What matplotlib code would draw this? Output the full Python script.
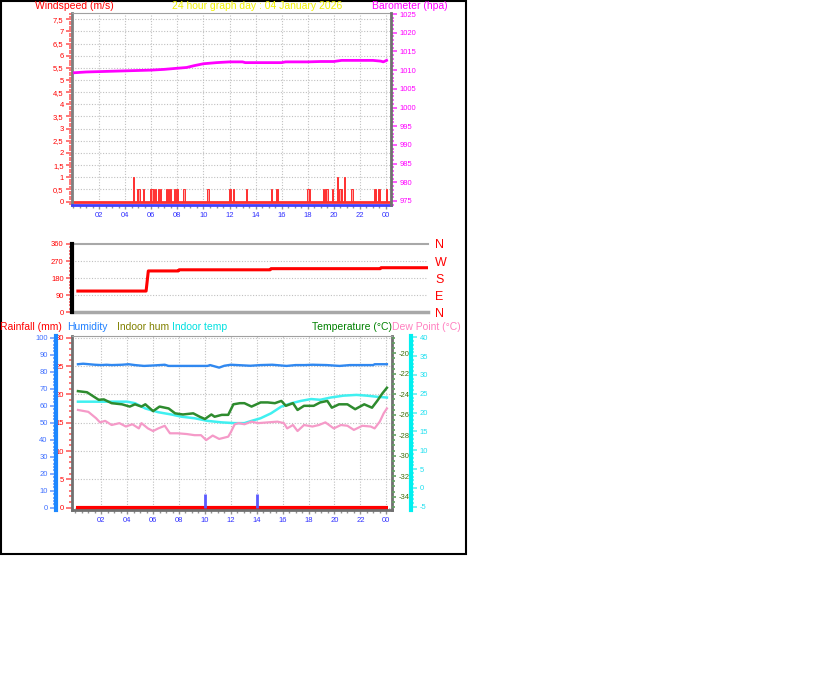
#!/usr/bin/env python3

import matplotlib
matplotlib.use("Agg")
import matplotlib.pyplot as plt
from matplotlib.patches import Rectangle
from matplotlib.ticker import MultipleLocator, FixedLocator, FuncFormatter

W, H = 816, 683
plt.rcParams['font.family'] = ['Liberation Sans', 'DejaVu Sans']
plt.rcParams['axes.unicode_minus'] = False

# --- windspeed spikes (m/s) ---
wind_hours = [4.62, 4.95, 5.05, 5.38, 5.95, 6.05, 6.15, 6.3, 6.57, 6.72, 7.18, 7.3,
              7.45, 7.78, 7.9, 8.02, 8.5, 10.35, 11.97, 12.1, 12.3, 13.3, 15.25,
              15.6, 15.7, 18.02, 18.15, 19.2, 19.35, 19.48, 19.92, 20.3, 20.48,
              20.62, 20.8, 21.4, 23.1, 23.2, 23.42, 23.52, 24.05]
wind_speed = [1.0, 0.5, 0.5, 0.5, 0.5, 0.5, 0.5, 0.5, 0.5, 0.5, 0.5, 0.5,
              0.5, 0.5, 0.5, 0.5, 0.5, 0.5, 0.5, 0.5, 0.5, 0.5, 0.5,
              0.5, 0.5, 0.5, 0.5, 0.5, 0.5, 0.5, 0.5, 1.0, 0.5,
              0.5, 1.0, 0.5, 0.5, 0.5, 0.5, 0.5, 0.5]

# --- barometer (hPa) ---
baro_hours = [0.1, 1.0, 2.0, 3.0, 4.0, 5.0, 6.0, 7.0, 8.0, 8.7, 9.3, 10.0, 11.0,
              12.0, 13.0, 13.2, 14.0, 15.0, 16.0, 16.3, 17.0, 18.0, 19.0, 20.0,
              20.6, 21.0, 22.0, 23.0, 23.6, 23.8, 24.05]
baro = [1009.3, 1009.5, 1009.6, 1009.7, 1009.8, 1009.9, 1010.0, 1010.2, 1010.5,
        1010.7, 1011.2, 1011.7, 1012.0, 1012.2, 1012.2, 1012.0, 1012.0, 1012.0,
        1012.0, 1012.2, 1012.2, 1012.2, 1012.3, 1012.3, 1012.6, 1012.6, 1012.6,
        1012.6, 1012.4, 1012.2, 1012.6]

# --- wind direction (deg) ---
dir_hours = [0.2, 4.85, 5.0, 7.04, 7.1, 13.3, 13.36, 20.8, 20.86, 24.0]
dir_deg = [112, 112, 218, 218, 224, 224, 230, 230, 235, 235]

# --- temperature (green), indoor temp (cyan), dew point (pink), degC ---
temp_hours = [0.2, 0.9, 1.8, 2.2, 2.8, 3.6, 4.2, 4.6, 5.1, 5.4, 6.0, 6.5, 7.2, 7.7,
              8.3, 9.1, 9.6, 10.0, 10.5, 10.75, 11.3, 11.8, 12.2, 12.7, 13.05,
              13.6, 14.3, 14.85, 15.4, 15.9, 16.25, 16.8, 17.15, 17.65, 18.4,
              18.9, 19.45, 19.8, 20.35, 21.0, 21.6, 22.3, 22.9, 23.3, 23.7, 24.05]
temp = [25.7, 25.4, 23.4, 23.5, 22.5, 22.2, 21.6, 22.2, 21.6, 22.2, 20.4, 21.6,
        21.1, 19.8, 19.5, 19.8, 18.9, 18.3, 19.5, 18.9, 19.4, 19.4, 22.2, 22.5,
        22.5, 21.6, 22.7, 22.7, 22.5, 23.1, 21.8, 22.5, 20.7, 21.8, 21.8, 22.7,
        23.1, 21.3, 22.2, 22.2, 20.9, 22.2, 21.3, 23.1, 25.1, 26.6]

in_hours = [0.2, 4.0, 4.6, 5.4, 6.4, 7.4, 8.2, 9.2, 10.2, 11.3, 12.3, 13.05, 13.6,
            14.3, 15.1, 15.9, 16.7, 17.4, 18.2, 18.9, 19.7, 20.7, 21.7, 22.5,
            23.3, 24.05]
in_temp = [22.9, 22.9, 22.5, 21.1, 20.1, 19.5, 18.9, 18.5, 17.8, 17.4, 17.2, 17.2,
           17.8, 18.5, 19.8, 21.6, 22.5, 23.1, 23.6, 23.4, 24.0, 24.5, 24.7, 24.5,
           24.2, 24.0]

dew_hours = [0.2, 1.0, 1.6, 1.9, 2.3, 2.8, 3.4, 3.9, 4.4, 4.9, 5.1, 5.6, 6.0, 6.4,
             6.9, 7.3, 7.9, 8.6, 9.2, 9.7, 10.1, 10.6, 11.1, 11.8, 12.0, 12.3,
             12.6, 13.05, 13.6, 14.1, 14.85, 15.6, 16.1, 16.35, 16.8, 17.15,
             17.65, 18.3, 18.8, 19.3, 19.95, 20.5, 21.0, 21.5, 22.15, 22.8, 23.1,
             23.5, 23.8, 24.05]
dew = [20.7, 20.2, 18.5, 17.4, 17.8, 16.7, 17.2, 16.3, 16.9, 15.8, 17.2, 15.8,
       15.1, 15.8, 16.5, 14.5, 14.5, 14.3, 14.0, 14.0, 12.7, 13.9, 13.0, 13.6,
       14.8, 16.9, 17.2, 16.9, 17.6, 17.2, 17.4, 17.6, 17.2, 15.8, 16.7, 15.1,
       16.7, 16.3, 16.7, 17.4, 15.8, 16.7, 16.5, 15.4, 16.5, 16.3, 15.8, 17.6,
       19.8, 21.1]

# --- humidity (%) ---
hum_hours = [0.2, 0.6, 1.5, 2.0, 2.4, 2.8, 3.6, 4.1, 4.6, 5.3, 6.1, 6.9, 7.2, 8.2,
             9.2, 10.2, 10.4, 11.1, 11.5, 12.0, 12.5, 13.5, 14.3, 15.2, 16.3,
             17.0, 17.7, 18.3, 19.4, 20.4, 21.2, 22.0, 23.0, 23.1, 24.05]
hum = [84.4, 84.7, 84.1, 83.9, 84.1, 83.9, 84.1, 84.4, 83.9, 83.4, 83.7, 84.1,
       83.4, 83.4, 83.4, 83.4, 83.9, 82.4, 83.5, 84.1, 83.9, 83.5, 83.9, 84.1,
       83.4, 83.9, 83.9, 84.1, 83.9, 83.4, 83.9, 83.9, 83.9, 84.4, 84.4]

# --- rain events (mm) ---
rain_hours = [10.04, 14.03]
rain_mm = [2.5, 2.5]

hour_ticks = list(range(2, 25, 2))
hour_labels = [f"{h % 24:02d}" for h in hour_ticks]
comma = FuncFormatter(lambda v, p: f"{v:g}".replace('.', ','))
TS = 5.5  # tick label size


def px_axes(fig, x0, y0, x1, y1):
    return fig.add_axes([x0 / W, 1 - y1 / H, (x1 - x0) / W, (y1 - y0) / H])


def ptxt(fig, x, y, s, color, size=7.5):
    fig.text(x / W, 1 - y / H, s, color=color, fontsize=size, ha='left', va='center')


def hour_axis(ax):
    ax.set_xticks(hour_ticks)
    ax.set_xticklabels(hour_labels)
    ax.xaxis.set_minor_locator(MultipleLocator(0.5))
    ax.tick_params(axis='x', which='both', colors='#909090', labelcolor='#3030ff',
                   labelsize=TS, length=3, width=1, pad=2)
    ax.tick_params(axis='x', which='minor', length=2)


fig = plt.figure(figsize=(W / 100, H / 100), dpi=100)
fig.add_artist(Rectangle((0.001, 1 - 554 / H), 465 / W, 554 / H - 0.001,
                         transform=fig.transFigure, fill=False, edgecolor='black', lw=1.5))

# ---------------- top panel: windspeed + barometer ----------------
ax1 = px_axes(fig, 72, 13, 391, 205)
ax1.set_xlim(-0.09, 24.39)
ax1.set_ylim(-0.144, 7.76)
ax1.grid(True, color='#c0c0c0', ls=(0, (1, 1.5)), lw=0.8)
ax1.set_axisbelow(True)
ax1.bar(wind_hours, wind_speed, width=0.09, color='#ffa0a0', edgecolor='#ff3030', lw=0.7)
ax1.axhline(0, color='#ff3030', lw=2)
ax1.yaxis.set_major_locator(MultipleLocator(0.5))
ax1.yaxis.set_minor_locator(MultipleLocator(0.1))
ax1.yaxis.set_major_formatter(comma)
ax1.tick_params(axis='y', which='both', colors='#ff6060', labelcolor='#ff0000',
                labelsize=TS, length=4, width=1.2, pad=2)
ax1.tick_params(axis='y', which='minor', length=2.5)
hour_axis(ax1)
ax1.spines['left'].set_color('#808080')
ax1.spines['left'].set_linewidth(2)
ax1.spines['top'].set_color('#a0a0a0')
ax1.spines['bottom'].set_color('#4040ff')
ax1.spines['bottom'].set_linewidth(2)
ax1.spines['right'].set_visible(False)

ax1b = ax1.twinx()
ax1b.set_ylim(973.93, 1025.27)
ax1b.plot(baro_hours, baro, color='#ff00ff', lw=2)
ax1b.yaxis.set_major_locator(MultipleLocator(5))
ax1b.yaxis.set_minor_locator(MultipleLocator(1))
ax1b.tick_params(axis='y', which='both', colors='#ff40ff', labelcolor='#ff00ff',
                 labelsize=TS, length=4, width=1.2, pad=2)
ax1b.tick_params(axis='y', which='minor', length=2.5)
for s in ['left', 'top', 'bottom']:
    ax1b.spines[s].set_visible(False)
ax1b.spines['right'].set_color('#707070')
ax1b.spines['right'].set_linewidth(2)

ptxt(fig, 35, 6, "Windspeed (m/s)", '#ff0000')
ptxt(fig, 172, 6, "24 hour graph day : 04 January 2026", '#f0f000')
ptxt(fig, 372, 6, "Barometer (hpa)", '#ff00ff')

# ---------------- middle panel: wind direction ----------------
ax2 = px_axes(fig, 72, 244, 428, 312.3)
ax2.set_xlim(-0.2, 24.06)
ax2.set_ylim(0, 360)
for v in (90, 180, 270):
    ax2.axhline(v, color='#c0c0c0', ls=(0, (1, 1.5)), lw=0.8)
ax2.axhline(360, color='#a8a8a8', lw=1.5, clip_on=False)
ax2.axhline(0, color='#a8a8a8', lw=2.5, clip_on=False)
ax2.plot(dir_hours, dir_deg, color='#ff0000', lw=2.2)
ax2.set_xticks([])
ax2.set_yticks([0, 90, 180, 270, 360])
ax2.yaxis.set_minor_locator(MultipleLocator(18))
ax2.tick_params(axis='y', which='both', colors='#ff6060', labelcolor='#ff0000',
                labelsize=TS, length=4, width=1.2, pad=2)
ax2.tick_params(axis='y', which='minor', length=2.5)
for s in ['top', 'bottom', 'right']:
    ax2.spines[s].set_visible(False)
ax2.spines['left'].set_color('black')
ax2.spines['left'].set_linewidth(3)

ax2r = ax2.twinx()
ax2r.set_ylim(0, 360)
ax2r.set_yticks([0, 90, 180, 270, 360])
ax2r.set_yticklabels(['N', 'E', 'S', 'W', 'N'])
ax2r.tick_params(axis='y', length=0, labelcolor='#ff0000', labelsize=9, pad=5)
for s in ax2r.spines.values():
    s.set_visible(False)

# ---------------- bottom panel: rain, humidity, temperatures ----------------
ax3 = px_axes(fig, 72, 335.7, 391.7, 510)
ax3.set_xlim(-0.26, 24.42)
ax3.set_ylim(-0.41, 30.35)
ax3.yaxis.set_major_locator(MultipleLocator(5))
ax3.yaxis.set_minor_locator(MultipleLocator(1))
ax3.grid(True, which='major', color='#c0c0c0', ls=(0, (1, 1.5)), lw=0.8)
ax3.set_axisbelow(True)
ax3.hlines(0, 0.05, 24.1, color='#ff0000', lw=3)
ax3.vlines(rain_hours, 0, rain_mm, color='#5a5aff', lw=2)
ax3.tick_params(axis='y', which='both', colors='#ff6060', labelcolor='#ff0000',
                labelsize=TS, length=4, width=1.2, pad=2)
ax3.tick_params(axis='y', which='minor', length=2.5)
hour_axis(ax3)
for s in ['left', 'right', 'bottom']:
    ax3.spines[s].set_color('#707070')
    ax3.spines[s].set_linewidth(2)
ax3.spines['top'].set_color('#a0a0a0')

ax3h = ax3.twinx()
ax3h.set_ylim(-1.35, 101.18)
ax3h.plot(hum_hours, hum, color='#3088f0', lw=1.7)
ax3h.yaxis.tick_left()
ax3h.spines['left'].set_position(('outward', 11.5))
ax3h.spines['left'].set_visible(True)
ax3h.spines['left'].set_color('#1e88ff')
ax3h.spines['left'].set_linewidth(3)
for s in ['right', 'top', 'bottom']:
    ax3h.spines[s].set_visible(False)
ax3h.yaxis.set_major_locator(MultipleLocator(10))
ax3h.yaxis.set_minor_locator(MultipleLocator(2))
ax3h.tick_params(axis='y', which='both', colors='#70a0ff', labelcolor='#4070ff',
                 labelsize=TS, length=4, width=1.2, pad=2)
ax3h.tick_params(axis='y', which='minor', length=2.5)

ax3t = ax3.twinx()
ax3t.set_ylim(-35.3, -18.28)
ax3t.yaxis.set_major_locator(FixedLocator(list(range(-34, -19, 2))))
ax3t.yaxis.set_minor_locator(MultipleLocator(0.5))
ax3t.tick_params(axis='y', which='both', colors='#60a060', labelcolor='#407010',
                 labelsize=TS, length=3, width=1.2, pad=2)
ax3t.tick_params(axis='y', which='minor', length=2)
for s in ax3t.spines.values():
    s.set_visible(False)

ax3d = ax3.twinx()
ax3d.set_ylim(-5.88, 40.43)
ax3d.plot(in_hours, in_temp, color='#40f0f0', lw=1.8)
ax3d.plot(dew_hours, dew, color='#f59ac8', lw=1.6)
ax3d.plot(temp_hours, temp, color='#2e8b2e', lw=1.8)
ax3d.spines['right'].set_position(('outward', 14))
ax3d.spines['right'].set_color('#00f0f0')
ax3d.spines['right'].set_linewidth(3)
for s in ['left', 'top', 'bottom']:
    ax3d.spines[s].set_visible(False)
ax3d.yaxis.set_major_locator(MultipleLocator(5))
ax3d.yaxis.set_minor_locator(MultipleLocator(1))
ax3d.tick_params(axis='y', which='both', colors='#60f0f0', labelcolor='#20e0f0',
                 labelsize=TS, length=4, width=1.2, pad=2)
ax3d.tick_params(axis='y', which='minor', length=2.5)

ptxt(fig, 0, 327, "Rainfall (mm)", '#ff0000')
ptxt(fig, 67, 327, "Humidity", '#2080ff')
ptxt(fig, 117, 327, "Indoor hum", '#808000')
ptxt(fig, 172, 327, "Indoor temp", '#00e0e0')
ptxt(fig, 312, 327, "Temperature (°C)", '#008000')
ptxt(fig, 392, 327, "Dew Point (°C)", '#ff80c0')

fig.savefig("out.png", dpi=100)
